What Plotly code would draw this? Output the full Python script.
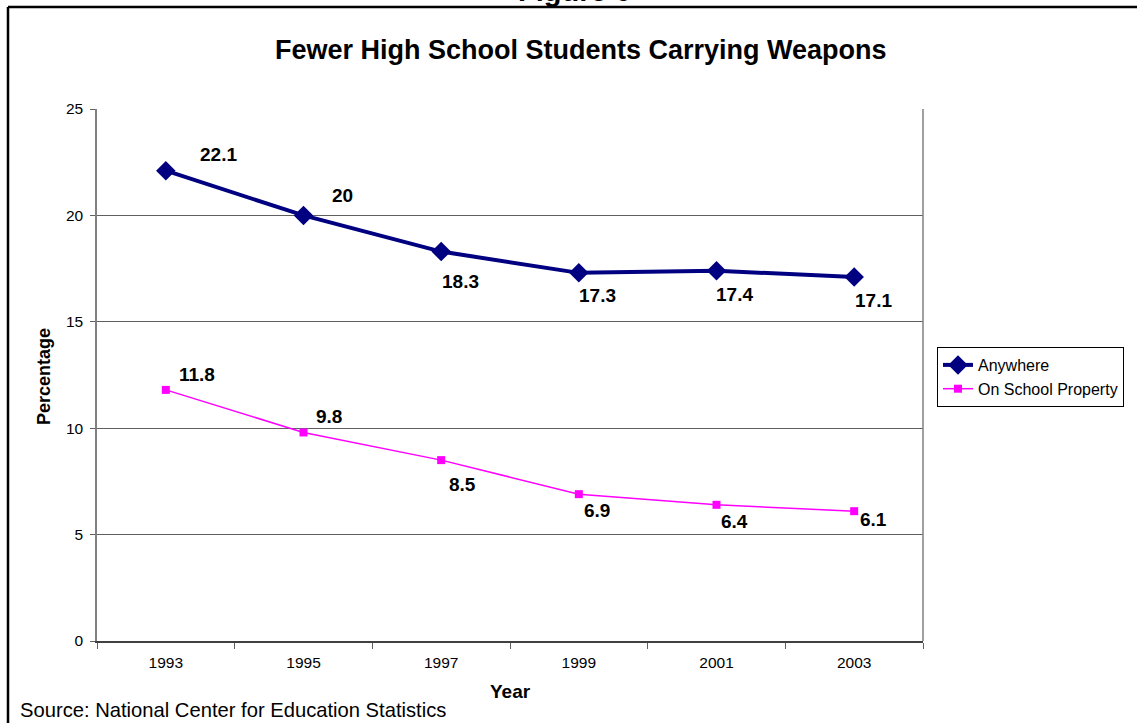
import plotly.graph_objects as go

years = ["1993", "1995", "1997", "1999", "2001", "2003"]
anywhere = [22.1, 20, 18.3, 17.3, 17.4, 17.1]
on_school = [11.8, 9.8, 8.5, 6.9, 6.4, 6.1]
y_ticks = [0, 5, 10, 15, 20, 25]

# label offsets (pixels) for the value annotations
anywhere_offsets = [(53, 16), (39, 20), (19, -30), (19, -23), (18, -24), (19, -23)]
school_offsets = [(31, 15), (25, 16), (21, -24), (18, -16), (18, -17), (19, -8)]

FONT = "Liberation Sans, Arial, sans-serif"

fig = go.Figure()
fig.add_trace(go.Scatter(
    x=years, y=anywhere, name="Anywhere", mode="lines+markers",
    line=dict(color="#000080", width=4),
    marker=dict(symbol="diamond", size=15, color="#000080"),
))
fig.add_trace(go.Scatter(
    x=years, y=on_school, name="On School Property", mode="lines+markers",
    line=dict(color="#FF00FF", width=1.5),
    marker=dict(symbol="square", size=8, color="#FF00FF"),
))

annotations = []
for series, offsets in ((anywhere, anywhere_offsets), (on_school, school_offsets)):
    # category axis: annotations are placed by category index
    for i, (v, (dx, dy)) in enumerate(zip(series, offsets)):
        annotations.append(dict(
            x=i, y=v, xref="x", yref="y", text=f"<b>{v:g}</b>", showarrow=False,
            xshift=dx, yshift=dy, font=dict(family=FONT, size=19, color="black"),
        ))

annotations += [
    dict(text="<b>Fewer High School Students Carrying Weapons</b>", xref="paper", yref="paper",
         x=(581 - 97) / 826, y=(641 - 50) / 532, xanchor="center", yanchor="middle",
         showarrow=False, font=dict(family=FONT, size=27, color="black")),
    dict(text="<b>Figure 6</b>", xref="paper", yref="paper",
         x=(574 - 97) / 826, y=(641 - 9) / 532, xanchor="center", yanchor="bottom",
         showarrow=False, font=dict(family=FONT, size=29, color="black")),
    dict(text="<b>Year</b>", xref="paper", yref="paper",
         x=(510 - 97) / 826, y=(641 - 691) / 532, xanchor="center", yanchor="middle",
         showarrow=False, font=dict(family=FONT, size=19, color="black")),
    dict(text="<b>Percentage</b>", xref="paper", yref="paper", textangle=-90,
         x=(44 - 97) / 826, y=(641 - 377) / 532, xanchor="center", yanchor="middle",
         showarrow=False, font=dict(family=FONT, size=18, color="black")),
    dict(text="Source: National Center for Education Statistics", xref="paper", yref="paper",
         x=(18 - 97) / 826, y=(641 - 710) / 532, xanchor="left", yanchor="middle",
         showarrow=False, font=dict(family=FONT, size=20.2, color="black")),
]

shapes = [
    # outer frame (left and top edges)
    dict(type="line", xref="paper", yref="paper", x0=(8 - 97) / 826, x1=(8 - 97) / 826,
         y0=-0.3, y1=(641 - 7) / 532, line=dict(color="black", width=2.5)),
    dict(type="line", xref="paper", yref="paper", x0=(8 - 97) / 826, x1=1.3,
         y0=(641 - 7) / 532, y1=(641 - 7) / 532, line=dict(color="black", width=2.5)),
    # right edge of the plot area
    dict(type="line", xref="paper", yref="paper", x0=1, x1=1, y0=0, y1=1,
         line=dict(color="#808080", width=1.5)),
]

fig.update_layout(
    width=1137, height=723,
    margin=dict(l=97, r=214, t=109, b=82),
    paper_bgcolor="white", plot_bgcolor="white",
    font=dict(family=FONT, size=15, color="black"),
    showlegend=True,
    legend=dict(x=(937 - 97) / 826, y=(641 - 347) / 532, xanchor="left", yanchor="top",
                bordercolor="black", borderwidth=1, bgcolor="white",
                font=dict(family=FONT, size=16, color="black"),
                tracegroupgap=0, itemwidth=30),
    annotations=annotations,
    shapes=shapes,
)
fig.update_xaxes(
    type="category", range=[-0.5, 5.5], showgrid=False,
    showline=True, linecolor="#404040", linewidth=1.5,
    ticks="outside", tickson="boundaries", ticklen=6, tickcolor="#606060",
    ticklabelstandoff=7, tickfont=dict(size=15.5), zeroline=False,
)
fig.update_yaxes(
    range=[0, 25], tickvals=y_ticks, showgrid=True, gridcolor="#606060", gridwidth=1,
    showline=True, linecolor="#808080", linewidth=1.5,
    ticks="outside", ticklen=5, tickcolor="#606060",
    ticklabelstandoff=4, tickfont=dict(size=15.5), zeroline=False,
)

fig.write_html("out.html")
